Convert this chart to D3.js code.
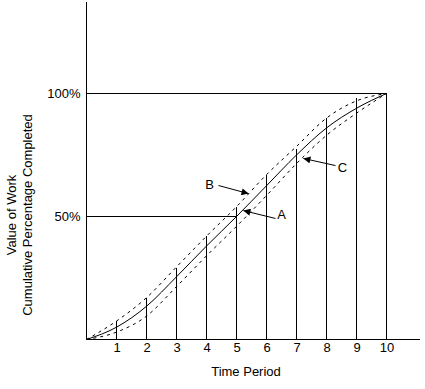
<!DOCTYPE html>
<html>
<head>
<meta charset="utf-8">
<script src="https://cdn.jsdelivr.net/npm/d3@7"></script>
<style>
body { margin: 0; background: #fff; }
text { font-family: "Liberation Sans", Arial, sans-serif; font-size: 13px; fill: #000; }
</style>
</head>
<body>
<svg width="425" height="389"></svg>
<script>
// time periods and cumulative % curves
var periods = [0, 1, 2, 3, 4, 5, 6, 7, 8, 9, 10]
var curveA = [0, 5, 13.5, 25.5, 38, 50, 62.5, 75, 86, 94, 100]
var curveB = [0, 7.5, 17, 29.5, 42, 54, 67, 78.5, 90, 97, 100]
var curveC = [0, 3, 9.5, 21.5, 34, 46, 58.5, 71.5, 83, 92, 100]

// vertical lines standing on each period
var barPeriods = [1, 2, 3, 4, 5, 6, 7, 8, 9, 10]
var barValues = [7.4, 17, 29, 42, 53.7, 66.7, 77.6, 90, 98, 100]

var yTicks = [50, 100]
var xTicks = [1, 2, 3, 4, 5, 6, 7, 8, 9, 10]

// labels: text spot, arrow start, arrow tip (in period / percent)
var labels = [
    {name: "B", tx: 4.1, ty: 63, x1: 4.4, y1: 62.6, x2: 5.4, y2: 59.3},
    {name: "A", tx: 6.5, ty: 50.8, x1: 6.3, y1: 49.2, x2: 5.23, y2: 52.4},
    {name: "C", tx: 8.53, ty: 69.9, x1: 8.3, y1: 70.7, x2: 7.23, y2: 73.6}
]

var svg = d3.select("svg")

var xscale = d3.scaleLinear().domain([0, 10]).range([86.5, 386.5])
var yscale = d3.scaleLinear().domain([0, 100]).range([339.5, 93.5])

svg.append("defs").append("marker")
    .attr("id", "arrow")
    .attr("viewBox", "0 0 10 10")
    .attr("refX", 10).attr("refY", 5)
    .attr("markerWidth", 9).attr("markerHeight", 7)
    .attr("markerUnits", "userSpaceOnUse")
    .attr("orient", "auto")
    .append("path")
    .attr("d", "M0,0L10,5L0,10Z")
    .attr("fill", "#000")

// axes lines
svg.append("line")
    .attr("x1", xscale(0)).attr("x2", xscale(11.12))
    .attr("y1", yscale(0)).attr("y2", yscale(0))
    .attr("stroke", "#000").attr("shape-rendering", "crispEdges")
svg.append("line")
    .attr("x1", xscale(0)).attr("x2", xscale(0))
    .attr("y1", yscale(0)).attr("y2", yscale(137))
    .attr("stroke", "#000").attr("shape-rendering", "crispEdges")

// reference lines at 50% and 100%
svg.append("line")
    .attr("x1", xscale(0)).attr("x2", xscale(10))
    .attr("y1", yscale(100)).attr("y2", yscale(100))
    .attr("stroke", "#000").attr("shape-rendering", "crispEdges")
svg.append("line")
    .attr("x1", xscale(0)).attr("x2", xscale(5))
    .attr("y1", yscale(50)).attr("y2", yscale(50))
    .attr("stroke", "#000").attr("shape-rendering", "crispEdges")

// verticals
svg.selectAll(".bar")
    .data(barPeriods)
    .enter()
    .append("line")
    .attr("class", "bar")
    .attr("x1", function(p) {return xscale(p)})
    .attr("x2", function(p) {return xscale(p)})
    .attr("y1", yscale(0))
    .attr("y2", function(p, i) {return yscale(barValues[i])})
    .attr("stroke", "#000")
    .attr("shape-rendering", "crispEdges")

var line = d3.line()
    .x(function(d) {return xscale(d[0])})
    .y(function(d) {return yscale(d[1])})
    .curve(d3.curveMonotoneX)

var drawCurve = function(values, dashed)
{
    svg.append("path")
        .attr("d", line(periods.map(function(p, i) {return [p, values[i]]})))
        .attr("fill", "none")
        .attr("stroke", "#000")
        .attr("stroke-width", 1)
        .attr("stroke-dasharray", dashed ? "3,4" : null)
}
drawCurve(curveA, false)
drawCurve(curveB, true)
drawCurve(curveC, true)

// ticks
var xAxis = svg.append("g")
    .attr("transform", "translate(0," + yscale(0) + ")")
    .call(d3.axisBottom(xscale).tickValues(xTicks).tickSize(0).tickPadding(3))
xAxis.select(".domain").remove()
xAxis.selectAll("text").style("font-size", "13px").style("font-family", null)

var yAxis = svg.append("g")
    .attr("transform", "translate(" + xscale(0) + ",0)")
    .call(d3.axisLeft(yscale).tickValues(yTicks).tickSize(0).tickPadding(6)
        .tickFormat(function(d) {return d + "%"}))
yAxis.select(".domain").remove()
yAxis.selectAll("text").style("font-size", "13px").style("font-family", null)

svg.append("text")
    .attr("x", 246).attr("y", 376)
    .attr("text-anchor", "middle")
    .text("Time Period")

svg.append("text")
    .attr("transform", "translate(16,215) rotate(-90)")
    .attr("text-anchor", "middle")
    .text("Value of Work")
svg.append("text")
    .attr("transform", "translate(31.5,215) rotate(-90)")
    .attr("text-anchor", "middle")
    .text("Cumulative Percentage Completed")

// labels with arrows
labels.forEach(function(l)
{
    svg.append("line")
        .attr("x1", xscale(l.x1)).attr("y1", yscale(l.y1))
        .attr("x2", xscale(l.x2)).attr("y2", yscale(l.y2))
        .attr("stroke", "#000")
        .attr("marker-end", "url(#arrow)")
    svg.append("text")
        .attr("x", xscale(l.tx)).attr("y", yscale(l.ty))
        .attr("dy", "0.35em")
        .attr("text-anchor", "middle")
        .text(l.name)
})
</script>
</body>
</html>
